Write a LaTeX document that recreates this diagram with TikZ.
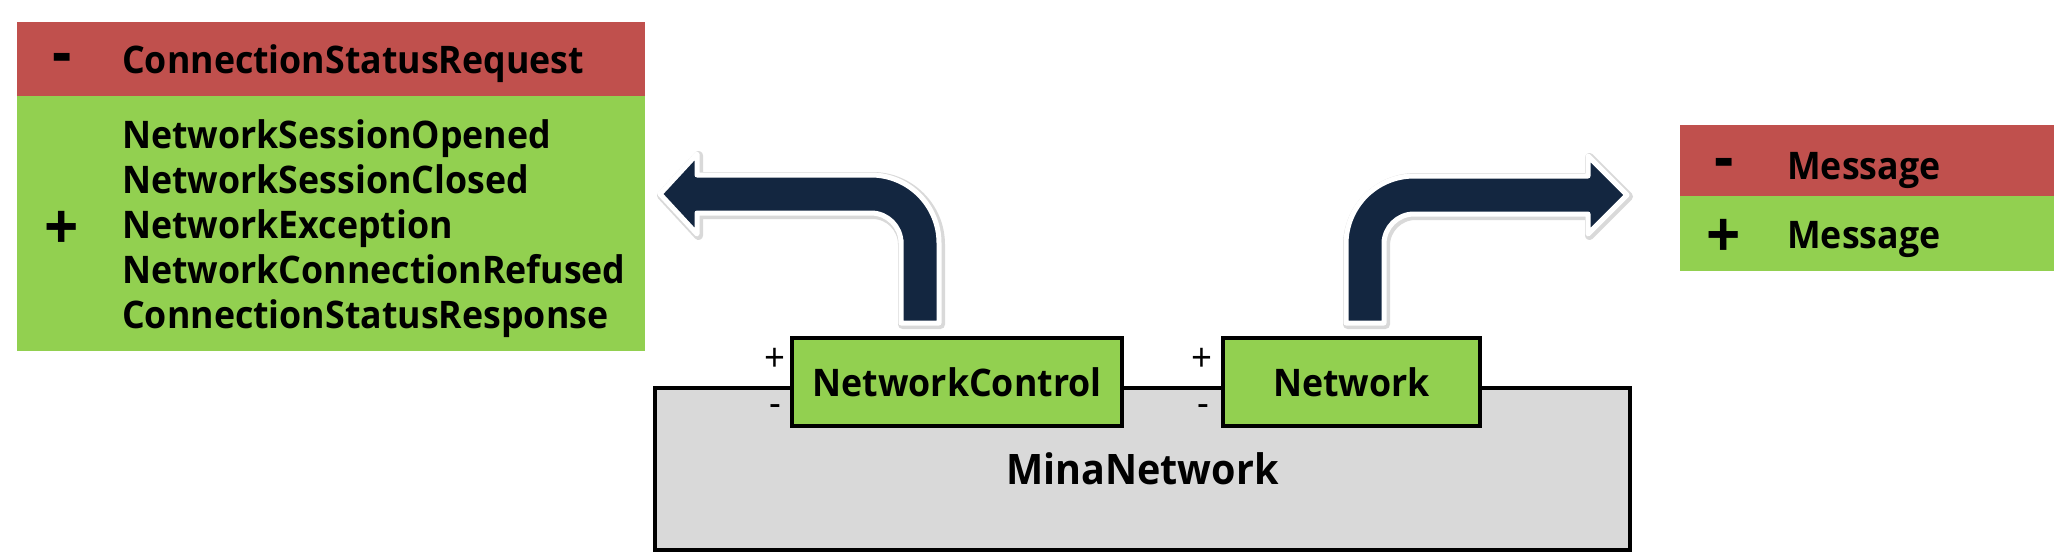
\documentclass[tikz,border=0pt]{standalone}
\usepackage{fontspec}
\setmainfont{Open Sans}[FakeStretch=0.94]
\definecolor{redc}{HTML}{C0504D}
\definecolor{greenc}{HTML}{92D050}
\definecolor{grayc}{HTML}{D9D9D9}
\definecolor{arrowc}{HTML}{132640}
\begin{document}
\begin{tikzpicture}[x=1pt,y=-1pt,
  lbl/.style={font=\fontsize{38}{42}\selectfont\bfseries, inner sep=0pt, anchor=base west},
  sign/.style={font=\fontsize{64}{64}\selectfont\bfseries, inner sep=0pt},
  smallsign/.style={font=\fontsize{39}{39}\selectfont, inner sep=0pt},
  portbox/.style={draw=black, line width=4pt, fill=greenc, inner sep=0pt,
    minimum height=88pt, font=\fontsize{38}{42}\selectfont\bfseries},
  mainbox/.style={draw=black, line width=4pt, fill=grayc, inner sep=0pt,
    font=\fontsize{42}{46}\selectfont\bfseries},
  bendarrow/.style={fill=arrowc, draw=white, line width=5pt, line join=round,
    preaction={draw=black!15, line width=9pt, line join=round,
      transform canvas={shift={(1.5pt,-1.5pt)}}}}
]
\useasboundingbox (0,0) rectangle (2054,554);

% left message panel
\fill[redc] (17,22) rectangle (645,96);
\fill[greenc] (17,96) rectangle (645,351);
\node[sign] (lminus) at (62,64) {-};
\node[lbl] (lreq) at (122,73) {ConnectionStatusRequest};
\node[sign] (lplus) at (62,230) {+};
\node[lbl] (l1) at (122,148) {NetworkSessionOpened};
\node[lbl] (l2) at (122,193) {NetworkSessionClosed};
\node[lbl] (l3) at (122,238) {NetworkException};
\node[lbl] (l4) at (122,283) {NetworkConnectionRefused};
\node[lbl] (l5) at (122,328) {ConnectionStatusResponse};

% right message panel
\fill[redc] (1680,125) rectangle (2054,196);
\fill[greenc] (1680,196) rectangle (2054,271);
\node[sign] (rminus) at (1724,169) {-};
\node[lbl] (rm1) at (1787,179) {Message};
\node[sign] (rplus) at (1724,238) {+};
\node[lbl] (rm2) at (1787,248) {Message};

% component
\node[mainbox, minimum width=975pt, minimum height=162pt] (mina) at (1142.5,469) {MinaNetwork};
\node[portbox, minimum width=330pt] (nc) at (957,382) {NetworkControl};
\node[portbox, minimum width=257pt] (net) at (1351.5,382) {Network};
\node[smallsign] (ncp) at (774.5,360) {+};
\node[smallsign] (ncm) at (775,411) {-};
\node[smallsign] (netp) at (1202,360) {+};
\node[smallsign] (netm) at (1203,411) {-};

% bent arrows
\path[bendarrow] (939,323) -- (939,260) [rounded corners=68pt] -- (939,175) -- (800,175)
  [sharp corners] -- (697,175) -- (697,154) -- (660,194) -- (697,234) -- (697,213)
  -- (840,213) [rounded corners=30pt] -- (901,213) -- (901,270) [sharp corners]
  -- (901,323) -- cycle;
\path[bendarrow] (1346,323) -- (1346,260) [rounded corners=68pt] -- (1346,176) -- (1480,176)
  [sharp corners] -- (1588,176) -- (1588,156) -- (1627,195) -- (1588,234) -- (1588,214)
  -- (1450,214) [rounded corners=30pt] -- (1384,214) -- (1384,270) [sharp corners]
  -- (1384,323) -- cycle;
\end{tikzpicture}
\end{document}
